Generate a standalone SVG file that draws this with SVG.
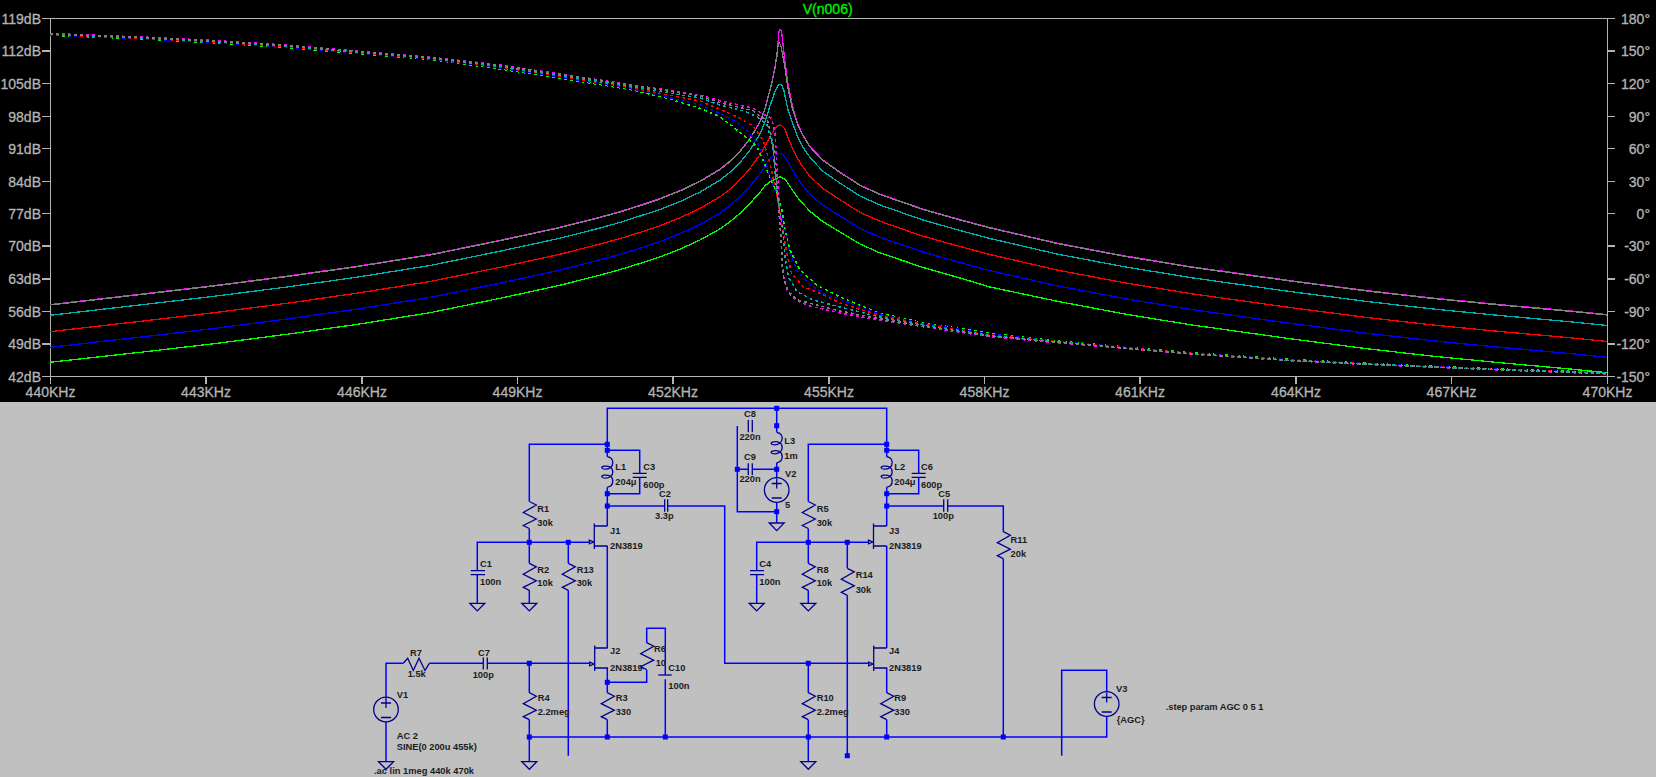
<svg xmlns="http://www.w3.org/2000/svg" xmlns:xlink="http://www.w3.org/1999/xlink" width="1656" height="777" viewBox="0 0 1656 777">
<style>
.axis{stroke:#b4b4b4;stroke-width:1.2;fill:none;shape-rendering:crispEdges}
.al{font:14px "Liberation Sans",Arial,sans-serif;fill:#b4b4b4;stroke:#b4b4b4;stroke-width:.3}
.end{text-anchor:end}.mid{text-anchor:middle}
.tr{fill:none;stroke-width:1.3;shape-rendering:crispEdges}
.ph{fill:none;stroke-width:1.5;stroke-dasharray:3 3;shape-rendering:crispEdges}
.w{fill:none;stroke:#0000ff;stroke-width:1.5}
.s{fill:none;stroke:#000090;stroke-width:1.3}
.j{fill:#0000ff}
.t{font:bold 9.3px "Liberation Sans",Arial,sans-serif;fill:#1c1c20}
</style>
<defs>
<path id="res" class="s" d="M0,0 L7,3.5 L-6,11 L7,17.5 L-6,24 L0,27"/>
<path id="gnd" class="s" d="M-7.5,0 H7.5 L0,7.6 Z"/>
<path id="coil" class="s" d="M0,0 Q5.5,1 5.5,6 C5.5,10 2,12.5 -2,12.5 C-6,12.5 -7,10 -3,9.5 C1,9 5.5,10 5.5,15.5 C5.5,19 2,21.5 -2,21.5 C-6,21.5 -7,19 -3,18.5 C1,18 5.5,19 5.5,24.5 C5.5,28 3,30 0,30.5"/>
<path id="jfet" class="s" d="M0,-2.6 V23 M0,0 H13 M0,20 H13 M-5,14.2 L-0.7,16 L-5,17.8 Z"/>
<g id="src"><circle class="s" r="12.3"/><path class="s" d="M-5,-6.5 H5 M0,-11.5 V-1.5 M-5,8 H5"/></g>
<rect id="dot" class="j" x="-2.5" y="-2.5" width="5" height="5"/>
</defs>
<rect width="1656" height="777" fill="#c0c0c0"/>
<rect width="1656" height="402" fill="#000"/>
<g id="plot-axes">
<path class="axis" d="M50.5,18.5 H1607.5 V376.5 H50.5 Z M1607.5,18.5 H1615 M1607.5,51 H1615 M1607.5,83.5 H1615 M1607.5,116.5 H1615 M1607.5,148.5 H1615 M1607.5,181.5 H1615 M1607.5,213.5 H1615 M1607.5,246 H1615 M1607.5,279 H1615 M1607.5,311.5 H1615 M1607.5,344 H1615 M1607.5,376.5 H1615 M42,18.5 H50.5 M42,51 H50.5 M42,83.5 H50.5 M42,116.5 H50.5 M42,148.5 H50.5 M42,181.5 H50.5 M42,213.5 H50.5 M42,246 H50.5 M42,279 H50.5 M42,311.5 H50.5 M42,344 H50.5 M42,376.5 H50.5 M50.5,376.5 V384 M206,376.5 V384 M362,376.5 V384 M517.5,376.5 V384 M673,376.5 V384 M829,376.5 V384 M984.5,376.5 V384 M1140,376.5 V384 M1296,376.5 V384 M1451.5,376.5 V384 M1607.5,376.5 V384"/>
<text x="827.7" y="13.5" class="mid" style="font:14px 'Liberation Sans',Arial,sans-serif;fill:#00f000;stroke:#00f000;stroke-width:.3">V(n006)</text>
<g class="al end">
<text x="41" y="23.5">119dB</text><text x="41" y="56">112dB</text><text x="41" y="88.5">105dB</text><text x="41" y="121.5">98dB</text><text x="41" y="153.5">91dB</text><text x="41" y="186.5">84dB</text><text x="41" y="218.5">77dB</text><text x="41" y="251">70dB</text><text x="41" y="284">63dB</text><text x="41" y="316.5">56dB</text><text x="41" y="349">49dB</text><text x="41" y="381.5">42dB</text>
<text x="1650" y="23.5">180°</text><text x="1650" y="56">150°</text><text x="1650" y="88.5">120°</text><text x="1650" y="121.5">90°</text><text x="1650" y="153.5">60°</text><text x="1650" y="186.5">30°</text><text x="1650" y="218.5">0°</text><text x="1650" y="251">-30°</text><text x="1650" y="284">-60°</text><text x="1650" y="316.5">-90°</text><text x="1650" y="349">-120°</text><text x="1650" y="381.5">-150°</text>
</g>
<g class="al mid">
<text x="50.5" y="397">440KHz</text><text x="206" y="397">443KHz</text><text x="362" y="397">446KHz</text><text x="517.5" y="397">449KHz</text><text x="673" y="397">452KHz</text><text x="829" y="397">455KHz</text><text x="984.5" y="397">458KHz</text><text x="1140" y="397">461KHz</text><text x="1296" y="397">464KHz</text><text x="1451.5" y="397">467KHz</text><text x="1607.5" y="397">470KHz</text>
</g>
</g>
<g id="plot-traces">
<polyline class="tr" stroke="#00ff00" points="50,362.3 143,352 214,343.7 286,334.4 357,324.4 430,312.7 500,298.3 560,285.3 600,275.1 620,269.6 640,263.4 660,256.9 680,249.2 700,240 720,228.9 730,221.7 740,213.3 750,203.3 760,192.4 765,185.7 770,181.7 775,179 780,176.7 785,179.3 788,183.4 792,189.6 797,196.7 802,202.7 810,211.3 823,221.7 840,232 860,244 880,252.9 923,267.4 960,278 990,287 1057,301.2 1123,313.7 1190,324.7 1290,338.7 1367,348.7 1433,356.2 1500,362.7 1567,368.7 1607,372.7"/>
<polyline class="tr" stroke="#0000ff" points="50,347.3 143,336.8 214,328.5 286,319.1 357,309.1 430,297.4 500,283.2 560,270.1 600,259.8 620,254.4 640,248.2 660,241.6 680,233.8 700,224.5 720,213.1 730,205.6 740,196.7 750,186.1 760,173.8 765,166 770,158.5 772,157 776,154.5 780,153.3 784,155.5 788,161.8 792,169.1 797,177.5 802,184.5 810,194.1 823,205.3 840,216 860,228.5 880,237.3 923,252 960,262.5 990,270.7 1057,285.8 1123,298.3 1190,309.3 1290,323.3 1367,333.3 1433,340.8 1500,347.3 1567,353.3 1607,357.3"/>
<polyline class="tr" stroke="#ff0000" points="50,331.7 143,321 214,312.7 286,303.4 357,293.2 430,281.5 500,267.3 560,254.3 600,244 620,238.6 640,232.4 660,225.7 680,217.8 700,208.4 720,196.8 730,189.2 740,179.8 750,168.4 760,154.6 765,146 770,137 772,133 775,128.5 778,125.5 780,125 782,126 785,129 788,138 792,147.3 797,157.6 802,165.7 810,176.4 823,188.5 840,199.7 860,212.4 880,221.3 923,236.2 960,246.5 990,254.5 1057,270 1123,282.5 1190,293.5 1290,307.5 1367,317.5 1433,325 1500,331.5 1567,337.5 1607,341.5"/>
<polyline class="tr" stroke="#00b0b0" points="50,315.3 143,304.6 214,296.3 286,287.1 357,277.2 430,265.5 500,251.2 560,238.2 600,228 620,222.4 640,216 660,209.5 680,201.5 700,192.1 720,180.1 730,172.2 740,162.5 750,150.1 760,134 765,121.8 770,105.8 772,100.3 775,91 778,85.5 780,84 782,85.5 784,91 788,110 792,121.3 797,135.5 802,145.7 810,157.5 823,171.3 840,183.1 860,196 880,205 923,220 960,230.5 990,238.5 1057,254 1123,266.5 1190,277.5 1290,291.5 1367,301.5 1433,309 1500,315.5 1567,321.5 1607,325.5"/>
<polyline class="tr" stroke="#ff00ff" points="50,304.6 143,293.9 214,285.6 286,276.3 357,266.3 430,254.6 500,240.3 560,227.3 600,217.1 620,211.6 640,205.3 660,198.6 680,190.6 700,181.1 720,169.1 730,161.1 740,151.2 750,138.6 760,121.6 765,108.6 770,89.6 772,81.6 775,67 777,56 779,31 780,29 781.5,31 785,62 788,84 792,104 797,122 802,133.6 810,146.6 823,160.1 840,172.1 860,185.1 880,194.1 923,209.1 960,219.6 990,227.6 1057,243.1 1123,255.6 1190,266.6 1290,280.6 1367,290.6 1433,298.1 1500,304.6 1567,310.6 1607,314.6"/>
<polyline class="tr" stroke="#808080" points="50,305 143,294.3 214,286 286,276.7 357,266.7 430,255 500,240.7 560,227.7 600,217.5 620,212 640,205.7 660,199 680,191 700,181.5 720,169.5 730,161.5 740,151.6 750,139 760,122 765,109 770,90 772,82 775,68 778,46 779.5,43 781,46 785,68 788,88 792,107 797,123 802,134 810,147 823,160.5 840,172.5 860,185.5 880,194.5 923,209.5 960,220 990,228 1057,243.5 1123,256 1190,267 1290,281 1367,291 1433,298.5 1500,305 1567,311 1607,315"/>
<polyline class="ph" stroke="#00ff00" points="50,35.3 143,39 214,42.8 286,47.5 357,53.5 429,59.3 500,69 567,79.3 633,90 667,98.3 700,108.3 720,116.7 733,126.7 747,138.3 757,146.7 763,160 770,178.3 777,193 782,210 785,230 790,250 800,270 817,285 840,297 880,313.3 923,322.7 990,333.3 1057,341 1123,346.7 1190,352.7 1290,359.3 1367,363.3 1433,366.3 1500,369 1607,372.5"/>
<polyline class="ph" stroke="#0000ff" points="50,35 143,38.7 214,42.4 286,47 357,53 429,58.8 500,68 567,78.3 633,89 700,105 720,113.3 737,122.3 750,133.3 760,146.7 768,170 775,190 780,210 785,230 790,253.3 797,270 810,285 825,294 840,299.5 880,314 923,323.5 990,334 1057,341.3 1123,347 1190,353 1290,359.7 1367,363.5 1433,366.5 1500,369.3 1607,372.8"/>
<polyline class="ph" stroke="#ff0000" points="50,34.6 143,38.3 214,42 286,46.5 357,52.5 429,58.3 500,67 567,77.3 633,88 700,101 720,109.3 740,118.3 753,126 763,140 770,163.3 775,186.7 779,207 783,230 786.7,253.3 791.7,273.3 803,286.7 820,293.3 840,303 880,315.5 923,324 990,335 1057,341.7 1123,347.5 1190,353.2 1290,360 1367,363.8 1433,366.8 1500,369.5 1607,373"/>
<polyline class="ph" stroke="#00b0b0" points="50,34.3 143,38 214,41.5 286,46 357,52 429,57.8 500,66.5 567,76.5 633,87 700,98 720,105 743,110.7 757,116.7 767,125 772.7,145 776.7,190 779.3,206.7 782.7,230 785,256.7 788.3,276.7 797,291.7 813,300 840,307 880,317 923,325 990,335.5 1057,342 1123,347.8 1190,353.5 1290,360.2 1367,364 1433,367 1500,369.7 1607,373.3"/>
<polyline class="ph" stroke="#ff00ff" points="50,33.5 143,37 214,40.5 286,45 357,51 429,57 500,65 567,75 633,85 700,95 720,100.7 753,108.3 763,114 771.7,118.3 775,133 777.3,173 780,216.7 782.3,270 786.7,290 795,300 810,306 840,313 880,320 923,326.7 990,336.7 1057,342.7 1123,348.3 1190,354 1290,360.7 1367,364.5 1433,367.3 1500,370 1607,374"/>
<polyline class="ph" stroke="#808080" points="50,34 143,37.5 214,41 286,45.5 357,51.5 429,57.5 500,65.5 567,75.5 633,85.5 700,96 720,102.7 753,110.7 768,121.7 774,150 777.3,190 781,240 783.3,276.7 788.3,291.7 798,300 813,304 840,311 880,318.7 923,326 990,336 1057,342.3 1123,348 1190,353.7 1290,360.4 1367,364.2 1433,367 1500,369.8 1607,373.7"/>
</g>
<g id="connectors">
<path class="w" d="M607.3,450.3 V408.3 H886.7 V450.3"/>
<path class="w" d="M607.3,444.3 H529.3 V501.5 M529.3,528.5 V563.3 M529.3,590.3 V603.3"/>
<path class="w" d="M477.3,570.7 V542.3 H589.3 M477.3,574.7 V603.3"/>
<path class="w" d="M568.3,542.3 V563.3 M568.3,590.3 V755.7"/>
<path class="w" d="M607.3,450.3 V456.7 M607.3,487.2 V526 M607.3,450.3 H639.7 V473.3 M639.7,477.3 V493.7 H607.3"/>
<path class="w" d="M607.3,506 H664.7 M667.7,506 H724.7 V663.3 H868.7"/>
<path class="w" d="M607.3,545.7 V648 M607.3,667.5 V692.7 M607.3,719.7 V737"/>
<path class="w" d="M386,697.3 V663.3 H403.3 M429.3,663.3 H483.3 M487.3,663.3 H589.3"/>
<path class="w" d="M386,721.7 V761.7"/>
<path class="w" d="M529.3,663.3 V692.7 M529.3,719.7 V761.7"/>
<path class="w" d="M607.3,682.3 H646.7 V670 M646.7,642.7 V628.3 H665.3 V675 M665.3,679.3 V737"/>
<path class="w" d="M529.3,737 H1106.7 V716.3 M1106.7,691.7 V670.3 H1061.7 V755.7"/>
<path class="w" d="M776.7,408.3 V432.3 M776.7,462.8 V477.7 M776.7,502.3 V522.7"/>
<path class="w" d="M737.3,426 V511.7 H776.7 M737.3,469.3 H748.3 M752.3,469.3 H776.7"/>
<path class="w" d="M886.7,444.3 H808.3 V501.5 M808.3,528.5 V563.3 M808.3,590.3 V603.3"/>
<path class="w" d="M756.7,570.7 V542.3 H868.7 M756.7,574.7 V603.3"/>
<path class="w" d="M847.3,542.3 V568.3 M847.3,595.3 V755.7"/>
<path class="w" d="M886.7,450.3 V456.7 M886.7,487.2 V526 M886.7,450.3 H918.7 V473.3 M918.7,477.3 V493.7 H886.7"/>
<path class="w" d="M886.7,506 H943.7 M947.7,506 H1003.3 V531.7 M1003.3,558.7 V737"/>
<path class="w" d="M886.7,545.7 V648 M886.7,667.5 V692.7 M886.7,719.7 V737"/>
<path class="w" d="M808.3,663.3 V692.7 M808.3,719.7 V761.7"/>
<g id="junctions">
<use href="#dot" x="607.3" y="444.3"/><use href="#dot" x="607.3" y="450.3"/><use href="#dot" x="607.3" y="493.7"/><use href="#dot" x="607.3" y="506"/><use href="#dot" x="529.3" y="542.3"/><use href="#dot" x="568.3" y="542.3"/><use href="#dot" x="607.3" y="682.3"/><use href="#dot" x="529.3" y="663.3"/><use href="#dot" x="529.3" y="737"/><use href="#dot" x="607.3" y="737"/><use href="#dot" x="665.3" y="737"/><use href="#dot" x="776.7" y="408.3"/><use href="#dot" x="776.7" y="425.7"/><use href="#dot" x="776.7" y="469.3"/><use href="#dot" x="737.3" y="469.3"/><use href="#dot" x="776.7" y="511.7"/><use href="#dot" x="886.7" y="444.3"/><use href="#dot" x="886.7" y="450.3"/><use href="#dot" x="886.7" y="493.7"/><use href="#dot" x="886.7" y="506"/><use href="#dot" x="808.3" y="542.3"/><use href="#dot" x="847.3" y="542.3"/><use href="#dot" x="808.3" y="663.3"/><use href="#dot" x="808.3" y="737"/><use href="#dot" x="886.7" y="737"/><use href="#dot" x="1003.3" y="737"/><use href="#dot" x="847.3" y="755.7"/>
</g>
</g>
<g id="grounds">
<use href="#gnd" x="477.3" y="603.3"/><use href="#gnd" x="529.3" y="603.3"/><use href="#gnd" x="386" y="761.7"/><use href="#gnd" x="529.3" y="761.7"/><use href="#gnd" x="776.7" y="523"/><use href="#gnd" x="756.7" y="603.3"/><use href="#gnd" x="808.3" y="603.3"/><use href="#gnd" x="808.3" y="761.7"/>
</g>
<g id="R1"><use href="#res" x="529.3" y="501.5"/><text class="t" x="537.3" y="511.7">R1</text><text class="t" x="537.3" y="526">30k</text></g>
<g id="R2"><use href="#res" x="529.3" y="563.3"/><text class="t" x="537.3" y="572.7">R2</text><text class="t" x="537.3" y="586">10k</text></g>
<g id="R13"><use href="#res" x="568.3" y="563.3"/><text class="t" x="576.7" y="572.7">R13</text><text class="t" x="576.7" y="586">30k</text></g>
<g id="C1"><path class="s" d="M470.7,570.7 H485 M470.7,574.7 H485"/><text class="t" x="480" y="566.7">C1</text><text class="t" x="480" y="585">100n</text></g>
<g id="L1"><use href="#coil" x="607.3" y="456.7"/><text class="t" x="615.3" y="470">L1</text><text class="t" x="615.3" y="485">204μ</text></g>
<g id="C3"><path class="s" d="M632.7,473.3 H646.7 M632.7,477.3 H646.7"/><text class="t" x="643.3" y="470">C3</text><text class="t" x="643.3" y="487.7">600p</text></g>
<g id="C2"><path class="s" d="M664.7,499.3 V511.7 M667.7,499.3 V511.7"/><text class="t mid" x="665" y="496.7">C2</text><text class="t mid" x="664.3" y="519.3">3.3p</text></g>
<g id="J1"><use href="#jfet" x="594.3" y="526"/><text class="t" x="610" y="534">J1</text><text class="t" x="610" y="549">2N3819</text></g>
<g id="J2"><use href="#jfet" x="594.7" y="648"/><text class="t" x="610" y="654.3">J2</text><text class="t" x="610" y="670.7">2N3819</text></g>
<g id="R3"><use href="#res" x="607.3" y="692.7"/><text class="t" x="615.7" y="700.7">R3</text><text class="t" x="615.7" y="715">330</text></g>
<g id="R6"><use href="#res" x="646.7" y="642.7"/><text class="t" x="654" y="651.7">R6</text><text class="t" x="655.7" y="666">10</text></g>
<g id="C10"><path class="s" d="M658.3,675 H671.7"/><text class="t" x="668.3" y="670.7">C10</text><text class="t" x="668.3" y="688.7">100n</text></g>
<g id="R4"><use href="#res" x="529.3" y="692.7"/><text class="t" x="537.7" y="700.7">R4</text><text class="t" x="537.7" y="715">2.2meg</text></g>
<g id="R7"><path class="s" d="M403.3,663.3 L407.7,658.3 L413.3,670.5 L419,658.3 L425,670.5 L429.3,663.3"/><text class="t mid" x="416" y="655.7">R7</text><text class="t mid" x="416.7" y="677.3">1.5k</text></g>
<g id="C7"><path class="s" d="M483.3,657.5 V669.5 M487.3,657.5 V669.5"/><text class="t mid" x="484" y="655.7">C7</text><text class="t mid" x="483.3" y="677.7">100p</text></g>
<g id="V1"><use href="#src" x="386" y="709.5"/><text class="t" x="396.7" y="697.7">V1</text><text class="t" x="396.7" y="739.3">AC 2</text><text class="t" x="396.7" y="750">SINE(0 200u 455k)</text></g>
<g id="L3"><use href="#coil" x="776.7" y="432.3"/><text class="t" x="784.3" y="444.3">L3</text><text class="t" x="784.3" y="459.3">1m</text></g>
<g id="C8"><path class="s" d="M748.3,420 V432.3 M752.3,420 V432.3"/><text class="t mid" x="750" y="417.3">C8</text><text class="t mid" x="750" y="440">220n</text></g>
<g id="C9"><path class="s" d="M748.3,463.3 V475 M752.3,463.3 V475"/><text class="t mid" x="750" y="460">C9</text><text class="t mid" x="750" y="482.3">220n</text></g>
<g id="V2"><use href="#src" x="776.7" y="490"/><text class="t" x="785" y="477.3">V2</text><text class="t" x="785" y="508.3">5</text></g>
<g id="R5"><use href="#res" x="808.3" y="501.5"/><text class="t" x="816.7" y="511.7">R5</text><text class="t" x="816.7" y="526">30k</text></g>
<g id="R8"><use href="#res" x="808.3" y="563.3"/><text class="t" x="816.7" y="572.7">R8</text><text class="t" x="816.7" y="586">10k</text></g>
<g id="R14"><use href="#res" x="847.3" y="568.3"/><text class="t" x="855.7" y="578.3">R14</text><text class="t" x="855.7" y="592.7">30k</text></g>
<g id="C4"><path class="s" d="M750,570.7 H764 M750,574.7 H764"/><text class="t" x="759.3" y="566.7">C4</text><text class="t" x="759.3" y="585">100n</text></g>
<g id="L2"><use href="#coil" x="886.7" y="456.7"/><text class="t" x="894.3" y="470">L2</text><text class="t" x="894.3" y="485">204μ</text></g>
<g id="C6"><path class="s" d="M911.7,473.3 H925.7 M911.7,477.3 H925.7"/><text class="t" x="921" y="470">C6</text><text class="t" x="921" y="487.7">600p</text></g>
<g id="C5"><path class="s" d="M943.7,499.3 V511.7 M947.7,499.3 V511.7"/><text class="t mid" x="944.3" y="496.7">C5</text><text class="t mid" x="943.3" y="519.3">100p</text></g>
<g id="J3"><use href="#jfet" x="873.5" y="526"/><text class="t" x="889" y="534">J3</text><text class="t" x="889" y="549">2N3819</text></g>
<g id="J4"><use href="#jfet" x="873.7" y="648"/><text class="t" x="889" y="654.3">J4</text><text class="t" x="889" y="670.7">2N3819</text></g>
<g id="R9"><use href="#res" x="886.7" y="692.7"/><text class="t" x="894.3" y="700.7">R9</text><text class="t" x="894.3" y="715">330</text></g>
<g id="R10"><use href="#res" x="808.3" y="692.7"/><text class="t" x="816.7" y="700.7">R10</text><text class="t" x="816.7" y="715">2.2meg</text></g>
<g id="R11"><use href="#res" x="1003.3" y="531.7"/><text class="t" x="1010.6" y="543">R11</text><text class="t" x="1010.6" y="557">20k</text></g>
<g id="V3"><use href="#src" x="1106.7" y="704"/><text class="t" x="1116" y="691.7">V3</text><text class="t" x="1116.7" y="722.7">{AGC}</text></g>
<g id="directives"><text class="t" x="374" y="774.3" textLength="100">.ac lin 1meg 440k 470k</text><text class="t" x="1165.7" y="710" textLength="97.7">.step param AGC 0 5 1</text></g>
</svg>
